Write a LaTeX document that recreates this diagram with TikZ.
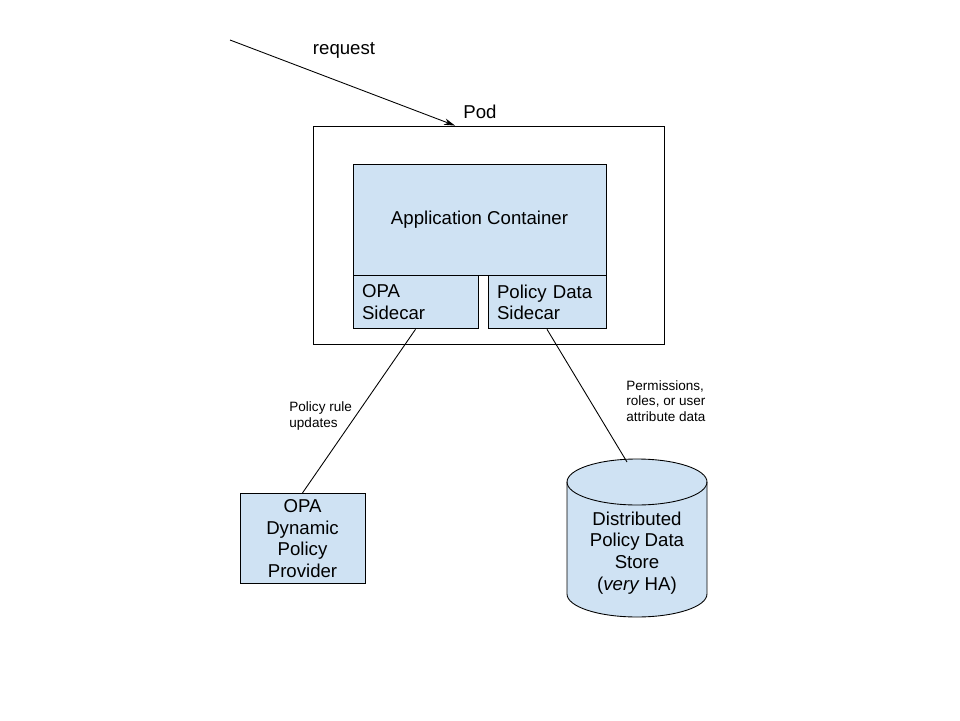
\documentclass[tikz,border=0pt]{standalone}
\usepackage{fontspec}
\setmainfont{Liberation Sans}
\usetikzlibrary{arrows.meta,positioning}

\definecolor{boxblue}{HTML}{CFE2F3}

\begin{document}
\begin{tikzpicture}[x=0.02cm, y=-0.02cm, line width=0.5pt]
    \tikzset{
        n/.style        =   { rectangle
                            , draw=black
                            , fill=boxblue
                            , align=center
                            , font=\fontsize{10.6pt}{12.4pt}\selectfont
        }
        , side/.style   =   { n
                            , align=left
                            , inner xsep=0.18cm
                            , minimum height=1.06cm
        }
        , store/.style  =   { align=center
                            , font=\fontsize{10.6pt}{12.4pt}\selectfont
        }
        , lbl/.style    =   { font=\fontsize{10.6pt}{12.4pt}\selectfont
        }
        , note/.style   =   { align=left
                            , anchor=west
                            , inner sep=0pt
                            , font=\fontsize{7.7pt}{9pt}\selectfont
        }
        , arrow/.style  =   { -{Stealth[length=2.2mm, width=1.3mm]}
        }
        , ell/.style    =   { x radius=1.4cm
                            , y radius=0.46cm
        }
    }
    \useasboundingbox (0,0) rectangle (960,720);

    \node(pod)[draw, minimum width=7.02cm, minimum height=4.36cm] at (488.5,235) {};
    \node(podlbl)[lbl] at (480,112) {Pod};
    \node(app)[n, minimum width=5.06cm, minimum height=2.22cm] at (479.5,219.5) {\raisebox{-2pt}{Application Container}};
    \node(opa)[side, text width=2.14cm, anchor=north west] at (app.south west) {OPA\\Sidecar};
    \node(pds)[side, text width=2.0cm, anchor=north east] at (app.south east) {Policy Data\\Sidecar};
    \node(prov)[n, minimum width=2.5cm, minimum height=1.7cm] at (302.5,538.5) {OPA\\Dynamic\\Policy\\Provider};

    % cylinder for the data store
    \draw[fill=boxblue] (567,482) -- (567,594) arc[start angle=180, end angle=360, ell]
        -- (707,482) arc[start angle=0, end angle=180, ell] -- cycle;
    \draw (567,482) arc[start angle=180, end angle=360, ell];
    \node(db)[store] at (637,553) {Distributed\\Policy Data\\Store\\(\textit{very} HA)};
    \coordinate(dbtop) at (627,462);

    \coordinate(req) at (230,40);
    \node(reqlbl)[lbl] at (344,50) {request};
    \node(rules)[note] at (289,416) {Policy rule\\updates};
    \node(perm)[note] at (626,401) {Permissions,\\roles, or user\\attribute data};

    \draw[arrow] (req) -- ([xshift=-0.67cm]pod.north);
    \draw (opa.south) -- (prov.north);
    \draw (pds.south) -- (dbtop);
\end{tikzpicture}
\end{document}
